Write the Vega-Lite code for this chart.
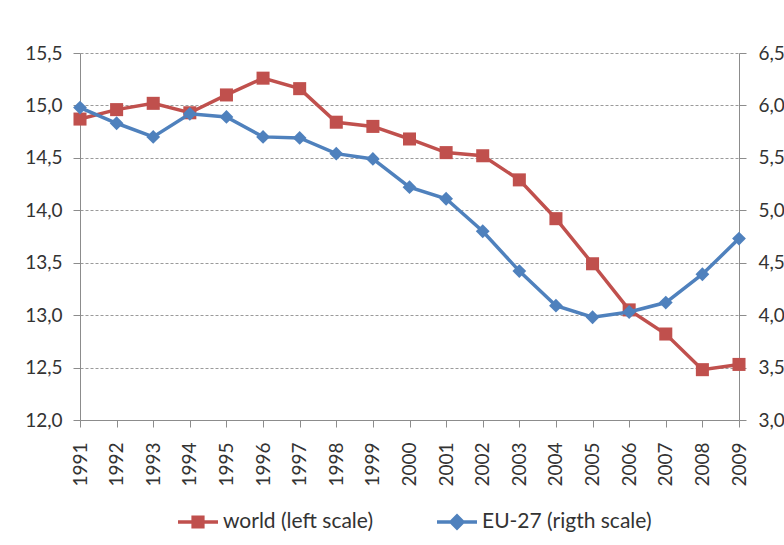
{
  "$schema": "https://vega.github.io/schema/vega-lite/v6.json",
  "width": 659,
  "height": 367,
  "autosize": {"type": "none"},
  "padding": {"left": 80, "top": 53, "right": 45, "bottom": 125},
  "background": "white",
  "config": {
    "locale": {"number": {"decimal": ",", "thousands": ".", "grouping": [3], "currency": ["", " €"]}},
    "view": {"stroke": null},
    "font": "Lato",
    "axis": {
      "labelFont": "Lato",
      "labelFontSize": 19,
      "labelColor": "#333333",
      "domainColor": "#8c8c8c",
      "tickColor": "#8c8c8c",
      "tickSize": 7,
      "title": null
    },
    "legend": {
      "labelFont": "Lato",
      "labelFontSize": 21,
      "labelColor": "#333333",
      "labelLimit": 400
    }
  },
  "data": {
    "values": [
      {"year": 1991, "world": 14.87, "eu": 5.98},
      {"year": 1992, "world": 14.96, "eu": 5.83},
      {"year": 1993, "world": 15.02, "eu": 5.70},
      {"year": 1994, "world": 14.93, "eu": 5.92},
      {"year": 1995, "world": 15.10, "eu": 5.89},
      {"year": 1996, "world": 15.26, "eu": 5.70},
      {"year": 1997, "world": 15.16, "eu": 5.69},
      {"year": 1998, "world": 14.84, "eu": 5.54},
      {"year": 1999, "world": 14.80, "eu": 5.49},
      {"year": 2000, "world": 14.68, "eu": 5.22},
      {"year": 2001, "world": 14.55, "eu": 5.11},
      {"year": 2002, "world": 14.52, "eu": 4.80},
      {"year": 2003, "world": 14.29, "eu": 4.42},
      {"year": 2004, "world": 13.92, "eu": 4.09},
      {"year": 2005, "world": 13.49, "eu": 3.98},
      {"year": 2006, "world": 13.05, "eu": 4.03},
      {"year": 2007, "world": 12.82, "eu": 4.12},
      {"year": 2008, "world": 12.48, "eu": 4.39},
      {"year": 2009, "world": 12.53, "eu": 4.73}
    ]
  },
  "encoding": {
    "x": {
      "field": "year",
      "type": "quantitative",
      "scale": {"domain": [1991, 2009], "nice": false, "zero": false},
      "axis": {
        "values": [1991,1992,1993,1994,1995,1996,1997,1998,1999,2000,2001,2002,2003,2004,2005,2006,2007,2008,2009],
        "format": "d",
        "labelAngle": -90,
        "labelAlign": "right",
        "labelBaseline": "middle",
        "labelPadding": 15,
        "grid": false,
        "labelFlush": false,
        "labelOverlap": false
      }
    }
  },
  "layer": [
    {
      "encoding": {
        "y": {
          "field": "world",
          "type": "quantitative",
          "scale": {"domain": [12, 15.5], "nice": false, "zero": false},
          "axis": {
            "orient": "left",
            "values": [12, 12.5, 13, 13.5, 14, 14.5, 15, 15.5],
            "format": ".1f",
            "grid": true,
            "gridDash": [3, 2],
            "gridColor": "#9a9a9a",
            "gridWidth": 1,
            "labelPadding": 11
          }
        },
        "color": {
          "datum": "world (left scale)",
          "scale": {"domain": ["world (left scale)", "EU-27 (rigth scale)"], "range": ["#C0504D", "#4F81BD"]},
          "legend": {
            "title": null,
            "orient": "none",
            "direction": "horizontal",
            "legendX": 98,
            "legendY": 449,
            "symbolSize": 1600,
            "labelOffset": 5,
            "labelLimit": 400,
            "columnPadding": 63,
            "encode": {
              "symbols": {
                "update": {
                  "shape": {"signal": "datum.value === 'world (left scale)' ? 'M-1,-0.09H1V0.09H-1Z M-0.33,-0.33H0.33V0.33H-0.33Z' : 'M-1,-0.09H1V0.09H-1Z M0,-0.42L0.42,0L0,0.42L-0.42,0Z'"},
                  "fill": {"scale": "color", "field": "value"},
                  "stroke": {"value": "transparent"},
                  "strokeWidth": {"value": 0},
                  "opacity": {"value": 1}
                }
              }
            }
          }
        }
      },
      "layer": [
        {"mark": {"type": "line", "strokeWidth": 3.5}},
        {"mark": {"type": "point", "shape": "square", "filled": true, "size": 170, "opacity": 1}}
      ]
    },
    {
      "encoding": {
        "y": {
          "field": "eu",
          "type": "quantitative",
          "scale": {"domain": [3, 6.5], "nice": false, "zero": false},
          "axis": {
            "orient": "right",
            "values": [3, 3.5, 4, 4.5, 5, 5.5, 6, 6.5],
            "format": ".1f",
            "grid": false,
            "labelPadding": 12
          }
        },
        "color": {"datum": "EU-27 (rigth scale)"}
      },
      "layer": [
        {"mark": {"type": "line", "strokeWidth": 3.5}},
        {"mark": {"type": "point", "shape": "diamond", "filled": true, "size": 190, "opacity": 1}}
      ]
    }
  ],
  "resolve": {"scale": {"y": "independent"}}
}
